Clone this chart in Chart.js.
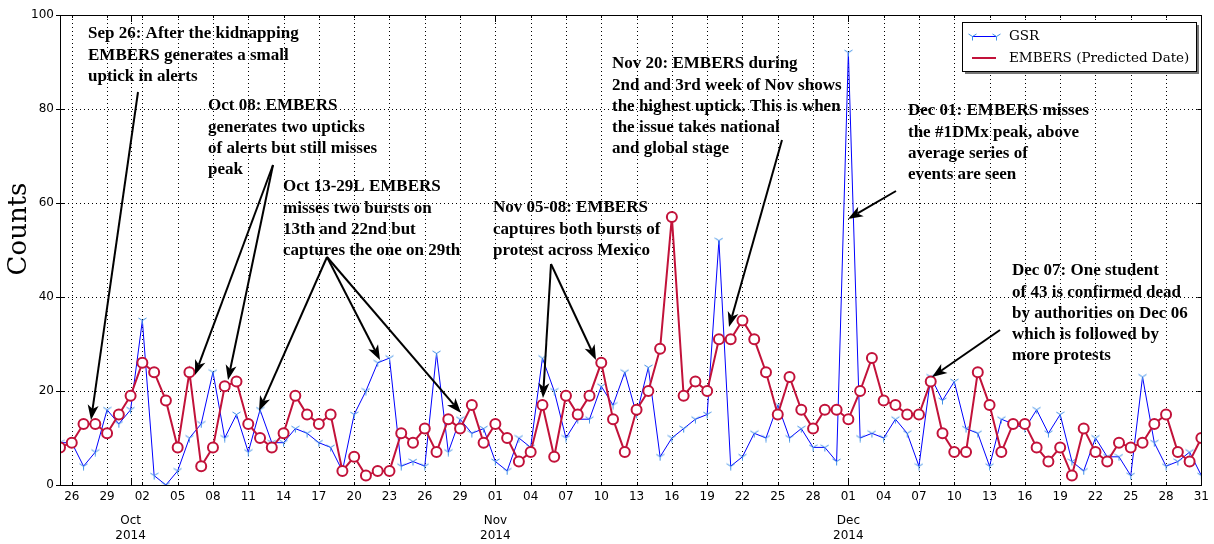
<!DOCTYPE html>
<html><head><meta charset="utf-8">
<script src="https://cdn.jsdelivr.net/npm/chart.js@4.4.1/dist/chart.umd.min.js"></script>
<style>html,body{margin:0;padding:0;background:#fff;}#wrap{width:1214px;height:544px;}</style>
</head><body><div id="wrap"><canvas id="c" width="1214" height="544"></canvas></div>
<script>
// ---- data ----
const startDate = '2014-09-25';          // day index 0
const gsr = [9,9,4,7,16,13,
  16,35,2,0,3,10,13,24,10,15,7,16,9,9,12,11,9,8,3,15,20,26,27,4,5,4,28,7,14,11,12,
  5,3,10,8,27,20,10,14,14,21,17,24,15,25,6,10,12,14,15,52,4,6,11,10,17,10,12,8,8,5,
  92,10,11,10,14,11,4,23,18,22,12,11,4,14,13,12,16,11,15,5,3,10,6,6,2,23,9,4,5,7,2];
const embers = [8,9,13,13,11,15,
  19,26,24,18,8,24,4,8,21,22,13,10,8,11,19,15,13,15,3,6,2,3,3,11,9,12,7,14,12,17,9,
  13,10,5,7,17,6,19,15,19,26,14,7,16,20,29,57,19,22,20,31,31,35,31,24,15,23,16,12,16,16,
  14,20,27,18,17,15,15,22,11,7,7,24,17,7,13,13,8,5,8,2,12,7,5,9,8,9,13,15,7,5,10];
const tickDays = [1,4,7,10,13,16,19,22,25,28,31,34,37,40,43,46,49,52,55,58,61,64,67,70,73,76,79,82,85,88,91,94,97];
const tickLabels = ['26','29','02','05','08','11','14','17','20','23','26','29','01','04','07','10','13','16','19','22','25','28','01','04','07','10','13','16','19','22','25','28','31'];
const monthStarts = [6, 37, 67];
const monthLabels = [['Oct','2014'],['Nov','2014'],['Dec','2014']];
const yTicks = [0,20,40,60,80,100];
const seriesNames = ['GSR','EMBERS (Predicted Date)'];

const annotations = [
  {x:88, y:34, lines:['Sep 26: After the kidnapping','EMBERS generates a small','uptick in alerts'],
   arrows:[[138,92,91,420]]},
  {x:208, y:106, lines:['Oct 08: EMBERS','generates two upticks','of alerts but still misses','peak'],
   arrows:[[273,165,195,375],[273,165,228,380]]},
  {x:283, y:187, lines:['Oct 13-29L EMBERS','misses two bursts on','13th and 22nd but','captures the one on 29th'],
   arrows:[[327,257,259,411],[327,257,380,360],[327,257,461,413]]},
  {x:493, y:208, lines:['Nov 05-08: EMBERS','captures both bursts of','protest across Mexico'],
   arrows:[[551,264,543,398],[551,264,596,360]]},
  {x:612, y:64, lines:['Nov 20: EMBERS during','2nd and 3rd week of Nov shows','the highest uptick. This is when','the issue takes national','and global stage'],
   arrows:[[782,140,729,327]]},
  {x:908, y:111, lines:['Dec 01: EMBERS misses','the #1DMx peak, above','average series of','events are seen'],
   arrows:[[896,191,848,219]]},
  {x:1012, y:271, lines:['Dec 07: One student','of 43 is confirmed dead','by authorities on Dec 06','which is followed by','more protests'],
   arrows:[[1000,330,932,377]]}
];

const BLUE = '#0000ff', MARK = '#3d8fe6', RED = '#c2123a';

// tri_down marker
function triMarker(){
  const c = document.createElement('canvas'); c.width = 9; c.height = 9;
  const g = c.getContext('2d'); g.strokeStyle = MARK; g.lineWidth = 1;
  g.beginPath(); g.moveTo(4.5,4.5); g.lineTo(4.5,8.5);
  g.moveTo(4.5,4.5); g.lineTo(0.5,2); g.moveTo(4.5,4.5); g.lineTo(8.5,2); g.stroke();
  return c;
}
const tri = triMarker();

function arrow(ctx, x1,y1,x2,y2){
  const ang = Math.atan2(y2-y1, x2-x1);
  const L = 15, W = 5.5, N = 11;
  const bx = x2 - L*Math.cos(ang), by = y2 - L*Math.sin(ang);
  const nx = x2 - N*Math.cos(ang), ny = y2 - N*Math.sin(ang);
  ctx.beginPath(); ctx.moveTo(x1,y1); ctx.lineTo(nx,ny);
  ctx.lineWidth = 2; ctx.strokeStyle = '#000'; ctx.stroke();
  const px = -Math.sin(ang), py = Math.cos(ang);
  ctx.beginPath(); ctx.moveTo(x2,y2);
  ctx.lineTo(bx + W*px, by + W*py); ctx.lineTo(nx,ny); ctx.lineTo(bx - W*px, by - W*py);
  ctx.closePath(); ctx.fillStyle = '#000'; ctx.fill();
}

const decor = {
  id:'decor',
  beforeDatasetsDraw(chart){
    const {ctx, chartArea:a, scales:{x,y}} = chart;
    ctx.save(); ctx.strokeStyle = '#000'; ctx.lineWidth = 1; ctx.setLineDash([1,3]);
    const vx = tickDays.concat(monthStarts);
    vx.forEach(d=>{ const px = Math.round(x.getPixelForValue(d))+0.5;
      ctx.beginPath(); ctx.moveTo(px,a.top); ctx.lineTo(px,a.bottom); ctx.stroke(); });
    yTicks.slice(1,-1).forEach(v=>{ const py = Math.round(y.getPixelForValue(v))+0.5;
      ctx.beginPath(); ctx.moveTo(a.left,py); ctx.lineTo(a.right,py); ctx.stroke(); });
    ctx.restore();
  },
  afterDraw(chart){
    const {ctx, chartArea:a, scales:{x,y}} = chart;
    ctx.save();
    // frame
    ctx.strokeStyle = '#000'; ctx.lineWidth = 1;
    ctx.strokeRect(Math.round(a.left)+0.5, Math.round(a.top)+0.5, Math.round(a.right-a.left), Math.round(a.bottom-a.top));
    // ticks
    ctx.beginPath();
    tickDays.forEach(d=>{ const px = Math.round(x.getPixelForValue(d))+0.5;
      ctx.moveTo(px,a.bottom); ctx.lineTo(px,a.bottom-3); ctx.moveTo(px,a.top); ctx.lineTo(px,a.top+3); });
    monthStarts.forEach(d=>{ const px = Math.round(x.getPixelForValue(d))+0.5;
      ctx.moveTo(px,a.bottom); ctx.lineTo(px,a.bottom-7); ctx.moveTo(px,a.top); ctx.lineTo(px,a.top+7); });
    yTicks.forEach(v=>{ const py = Math.round(y.getPixelForValue(v))+0.5;
      ctx.moveTo(a.left-4,py); ctx.lineTo(a.left+4,py); ctx.moveTo(a.right,py); ctx.lineTo(a.right-4,py); });
    ctx.stroke();
    // month labels
    ctx.fillStyle = '#000'; ctx.font = '12px "DejaVu Sans"'; ctx.textAlign = 'center'; ctx.textBaseline = 'middle';
    monthStarts.forEach((d,i)=>{ const px = x.getPixelForValue(d);
      ctx.fillText(monthLabels[i][0], px, 521); ctx.fillText(monthLabels[i][1], px, 536); });
    // y title
    ctx.save(); ctx.translate(19, 229); ctx.rotate(-Math.PI/2);
    ctx.font = '26px "DejaVu Serif"'; ctx.fillText('Counts', 0, 0); ctx.restore();
    // annotations
    ctx.font = 'bold 17px "Liberation Serif"'; ctx.textAlign = 'left'; ctx.textBaseline = 'middle';
    annotations.forEach(an=>{
      an.lines.forEach((t,i)=> ctx.fillText(t, an.x, an.y + i*21.2));
      an.arrows.forEach(ar=> arrow(ctx, ar[0],ar[1],ar[2],ar[3]));
    });
    // legend
    const lx = 962, ly = 22, lw = 234, lh = 49;
    ctx.fillStyle = '#777'; ctx.fillRect(lx+3, ly+3, lw, lh);
    ctx.fillStyle = '#fff'; ctx.fillRect(lx, ly, lw, lh);
    ctx.strokeStyle = '#000'; ctx.lineWidth = 1; ctx.strokeRect(lx+0.5, ly+0.5, lw, lh);
    ctx.beginPath(); ctx.moveTo(972,36.5); ctx.lineTo(996,36.5); ctx.strokeStyle = BLUE; ctx.lineWidth = 1; ctx.stroke();
    ctx.drawImage(tri, 968, 32); ctx.drawImage(tri, 992, 32);
    ctx.beginPath(); ctx.moveTo(972,58); ctx.lineTo(996,58); ctx.strokeStyle = RED; ctx.lineWidth = 2; ctx.stroke();
    ctx.fillStyle = '#000'; ctx.font = '13.5px "DejaVu Serif"'; ctx.textAlign = 'left';
    ctx.fillText(seriesNames[0], 1009, 36); ctx.fillText(seriesNames[1], 1009, 58);
    ctx.restore();
  }
};

new Chart(document.getElementById('c'), {
  type:'line',
  data:{ datasets:[
    {label:seriesNames[1], data: embers.map((v,i)=>({x:i,y:v})), borderColor:RED, borderWidth:2,
     pointStyle:'circle', pointRadius:5, pointBorderWidth:2, pointBorderColor:RED, pointBackgroundColor:'#fff',
     tension:0, order:0},
    {label:seriesNames[0], data: gsr.map((v,i)=>({x:i,y:v})), borderColor:BLUE, borderWidth:1,
     pointStyle:tri, pointRadius:4, tension:0, order:1}
  ]},
  options:{
    responsive:false, animation:false, devicePixelRatio:1,
    layout:{padding:{left:0,right:9,top:15,bottom:0}},
    plugins:{legend:{display:false}, tooltip:{enabled:false}},
    scales:{
      x:{type:'linear', min:0, max:gsr.length-1,
        afterBuildTicks(s){ s.ticks = tickDays.map(v=>({value:v})); },
        afterFit(s){ s.height = 59; },
        grid:{display:false, drawTicks:false}, border:{display:false},
        ticks:{autoSkip:false, maxRotation:0, padding:5, color:'#000', font:{family:'DejaVu Sans', size:12},
          callback(v){ const k = tickDays.indexOf(v); return k>=0 ? tickLabels[k] : ''; }}
      },
      y:{min:0, max:100,
        afterBuildTicks(s){ s.ticks = yTicks.map(v=>({value:v})); },
        afterFit(s){ s.width = 60; },
        grid:{display:false, drawTicks:false}, border:{display:false},
        ticks:{padding:6, color:'#000', font:{family:'DejaVu Sans', size:12}}
      }
    }
  },
  plugins:[decor]
});
</script></body></html>
